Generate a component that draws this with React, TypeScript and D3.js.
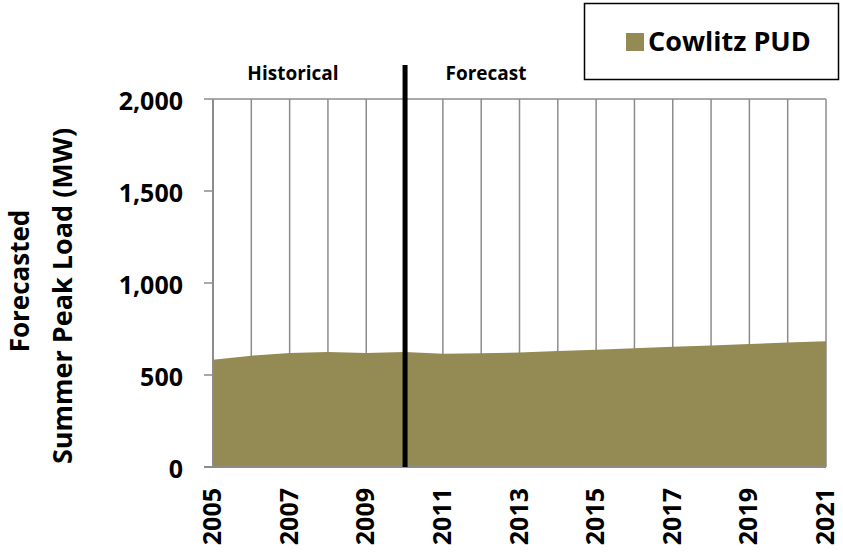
import React from "react";
import * as d3 from "d3";

const years = [2005, 2006, 2007, 2008, 2009, 2010, 2011, 2012, 2013, 2014, 2015, 2016, 2017, 2018, 2019, 2020, 2021];
const cowlitzPUD = [583, 605, 620, 625, 620, 625, 616, 618, 622, 630, 637, 645, 654, 661, 668, 676, 683];
const yTicks = [0, 500, 1000, 1500, 2000];
const xTickLabels = [2005, 2007, 2009, 2011, 2013, 2015, 2017, 2019, 2021];
const seriesName = "Cowlitz PUD";
const dividerYear = 2010;

const W = 843;
const H = 554;
const FONT = "'Open Sans', Lato, sans-serif";
const AREA = "#948A54";
const GRID = "#8c8c8c";

export default function App() {
  const x = d3.scaleLinear().domain([2005, 2021]).range([213, 826]);
  const y = d3.scaleLinear().domain([0, 2000]).range([467, 99]);
  const data = years.map((yr, i) => ({ yr, v: cowlitzPUD[i] }));
  const area = d3
    .area<{ yr: number; v: number }>()
    .x((d) => x(d.yr))
    .y0(y(0))
    .y1((d) => y(d.v));

  return (
    <svg width={W} height={H} style={{ position: "absolute", left: 0, top: 0, background: "#fff" }}>
      {/* vertical gridlines */}
      {years.map((yr) => (
        <line key={yr} x1={x(yr)} x2={x(yr)} y1={y(0)} y2={y(2000)} stroke={GRID} strokeWidth={1.5} />
      ))}
      {/* top line */}
      <line x1={x(2005)} x2={x(2021)} y1={y(2000)} y2={y(2000)} stroke={GRID} strokeWidth={1.5} />
      {/* area */}
      <path d={area(data) || ""} fill={AREA} />
      {/* axes */}
      <line x1={x(2005)} x2={x(2005)} y1={y(0)} y2={y(2000)} stroke={GRID} strokeWidth={2} />
      <line x1={x(2005) - 9} x2={x(2021)} y1={y(0)} y2={y(0)} stroke={GRID} strokeWidth={2} />
      {yTicks.map((t) => (
        <g key={t}>
          <line x1={x(2005) - 9} x2={x(2005)} y1={y(t)} y2={y(t)} stroke={GRID} strokeWidth={1.5} />
          <text
            x={183}
            y={y(t) + 1}
            textAnchor="end"
            dominantBaseline="central"
            fontFamily={FONT}
            fontWeight="bold"
            fontSize={25}
            fill="#000"
          >
            {d3.format(",")(t)}
          </text>
        </g>
      ))}
      {xTickLabels.map((t) => (
        <text
          key={t}
          transform={`translate(${x(t) - 2},${488}) rotate(-90)`}
          textAnchor="end"
          dominantBaseline="central"
          fontFamily={FONT}
          fontWeight="bold"
          fontSize={25}
          fill="#000"
        >
          {t}
        </text>
      ))}
      {/* divider */}
      <line x1={x(dividerYear) + 0.5} x2={x(dividerYear) + 0.5} y1={65} y2={y(0)} stroke="#000" strokeWidth={5} />
      <text x={293} y={80} textAnchor="middle" fontFamily={FONT} fontWeight="bold" fontSize={19} fill="#000">
        Historical
      </text>
      <text x={486} y={80} textAnchor="middle" fontFamily={FONT} fontWeight="bold" fontSize={19} fill="#000">
        Forecast
      </text>
      {/* y title */}
      <text
        transform={`translate(29,281) rotate(-90)`}
        textAnchor="middle"
        fontFamily={FONT}
        fontWeight="bold"
        fontSize={26}
        fill="#000"
      >
        Forecasted
      </text>
      <text
        transform={`translate(72,296) rotate(-90)`}
        textAnchor="middle"
        fontFamily={FONT}
        fontWeight="bold"
        fontSize={27}
        fill="#000"
      >
        Summer Peak Load (MW)
      </text>
      {/* legend */}
      <rect x={584.5} y={3.5} width={254} height={76} fill="#fff" stroke="#000" strokeWidth={1.5} />
      <rect x={626} y={33} width={18} height={18} fill={AREA} />
      <text x={648} y={51} fontFamily={FONT} fontWeight="bold" fontSize={27} fill="#000">
        {seriesName}
      </text>
    </svg>
  );
}
